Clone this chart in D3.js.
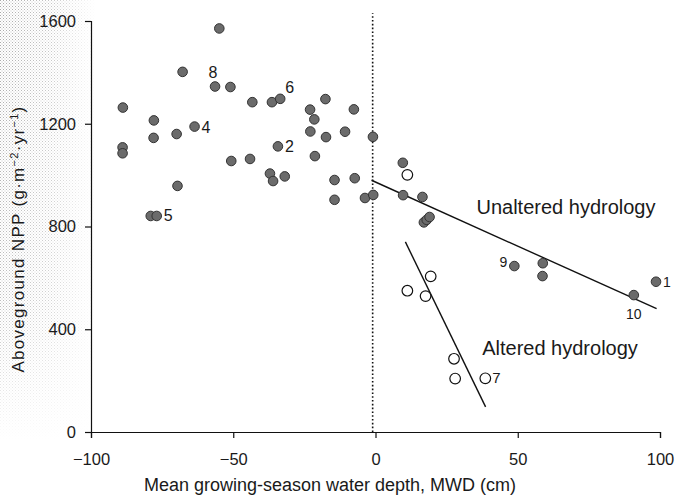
<!DOCTYPE html>
<html>
<head>
<meta charset="utf-8">
<script src="https://cdn.jsdelivr.net/npm/d3@7"></script>
<style>
  body { margin: 0; background: #fff; }
  svg text { font-family: "Liberation Sans", Arial, sans-serif; fill: #1a1a1a; }
</style>
</head>
<body>
<svg id="chart" width="681" height="498"></svg>
<script>
// unaltered hydrology sites (filled dots)
var unalteredX = [-88.8, -88.9, -88.9, -77.9, -78.0, -69.9, -63.6, -67.8, -69.6, -79.0, -76.9,
  -54.9, -56.4, -51.0, -43.3, -36.4, -33.5, -50.7, -44.1, -34.3, -37.1, -36.0, -31.9,
  -23.0, -21.5, -17.6, -22.9, -17.4, -21.3, -10.7, -7.6, -0.9, -14.4, -7.3, -14.4, -3.7, -0.8,
  9.6, 9.7, 16.5, 17.0, 18.0, 19.0, 48.8, 58.8, 58.7, 90.8, 98.6];
var unalteredY = [1263, 1108, 1085, 1213, 1145, 1160, 1189, 1402, 958, 841, 841,
  1571, 1345, 1343, 1284, 1284, 1297, 1055, 1063, 1112, 1006, 977, 995,
  1255, 1217, 1296, 1170, 1148, 1074, 1169, 1256, 1149, 981, 988, 904, 911, 923,
  1048, 922, 915, 816, 826, 837, 646, 657, 607, 533, 585];

// altered hydrology sites (open circles)
var alteredX = [11.2, 19.4, 11.2, 17.6, 27.6, 28.0, 38.6];
var alteredY = [1001, 606, 550, 529, 285, 208, 209];

// regression lines
var unalteredFitX = [-1.4, 98.8];
var unalteredFitY = [980, 480];
var alteredFitX = [10.5, 38.7];
var alteredFitY = [740, 98];

// numbered sites
var siteNames = ["1", "2", "4", "5", "6", "7", "8", "9", "10"];
var siteX = [98.6, -34.3, -63.6, -76.9, -33.5, 38.6, -56.4, 48.8, 90.8];
var siteY = [585, 1112, 1189, 841, 1297, 209, 1345, 646, 533];

var xTicks = [-100, -50, 0, 50, 100];
var yTicks = [0, 400, 800, 1200, 1600];
var dividerX = -1;

var svg = d3.select('#chart');

var x = d3.scaleLinear().domain([-100, 100]).range([91, 660]);
var y = d3.scaleLinear().domain([0, 1600]).range([432, 21]);

// scanned-paper stipple on the left edge
var defs = svg.append('defs');
var pat = defs.append('pattern').attr('id', 'stip').attr('width', 3).attr('height', 3)
  .attr('patternUnits', 'userSpaceOnUse');
pat.append('rect').attr('x', 0).attr('y', 0).attr('width', 1).attr('height', 1).attr('fill', '#8c8c8c');
pat.append('rect').attr('x', 1.5).attr('y', 1.5).attr('width', 1).attr('height', 1).attr('fill', '#a8a8a8');
var fadeX = defs.append('linearGradient').attr('id', 'fadeX')
  .attr('x1', '0').attr('y1', '0').attr('x2', '1').attr('y2', '0');
fadeX.append('stop').attr('offset', '0').attr('stop-color', '#fff').attr('stop-opacity', 0);
fadeX.append('stop').attr('offset', '0.55').attr('stop-color', '#fff').attr('stop-opacity', 0.35);
fadeX.append('stop').attr('offset', '1').attr('stop-color', '#fff').attr('stop-opacity', 1);
var fadeY = defs.append('linearGradient').attr('id', 'fadeY')
  .attr('x1', '0').attr('y1', '0').attr('x2', '0').attr('y2', '1');
fadeY.append('stop').attr('offset', '0').attr('stop-color', '#fff').attr('stop-opacity', 0);
fadeY.append('stop').attr('offset', '0.7').attr('stop-color', '#fff').attr('stop-opacity', 0.25);
fadeY.append('stop').attr('offset', '1').attr('stop-color', '#fff').attr('stop-opacity', 1);
svg.append('rect').attr('x', 0).attr('y', 0).attr('width', 96).attr('height', 440)
  .attr('fill', 'url(#stip)').attr('opacity', 0.75);
svg.append('rect').attr('x', 0).attr('y', 0).attr('width', 96).attr('height', 440)
  .attr('fill', 'url(#fadeX)');
svg.append('rect').attr('x', 0).attr('y', 0).attr('width', 96).attr('height', 440)
  .attr('fill', 'url(#fadeY)');

// axes
var xAxis = svg.append('g')
  .attr('transform', 'translate(0,' + y(0) + ')')
  .call(d3.axisBottom(x).tickValues(xTicks).tickSize(6).tickPadding(15));
var yAxis = svg.append('g')
  .attr('transform', 'translate(' + x(-100) + ',0)')
  .call(d3.axisLeft(y).tickValues(yTicks).tickFormat(d3.format('d')).tickSize(6).tickPadding(9));

[xAxis, yAxis].forEach(function (g) {
  g.attr('font-family', null).attr('font-size', null);
  g.selectAll('path, line').attr('stroke', '#111').attr('stroke-width', 1.2);
  g.selectAll('text').style('font-size', '16.5px');
});

// axis titles
svg.append('text')
  .attr('x', 330).attr('y', 491)
  .attr('text-anchor', 'middle')
  .style('font-size', '18px')
  .text('Mean growing-season water depth, MWD (cm)');

var yTitle = svg.append('text')
  .attr('transform', 'translate(24,239) rotate(-90)')
  .attr('text-anchor', 'middle')
  .style('font-size', '17px')
  .style('letter-spacing', '1.3px');
yTitle.append('tspan').text('Aboveground NPP (g·m');
yTitle.append('tspan').attr('dy', -6).style('font-size', '11px').text('−2');
yTitle.append('tspan').attr('dy', 6).text('·yr');
yTitle.append('tspan').attr('dy', -6).style('font-size', '11px').text('−1');
yTitle.append('tspan').attr('dy', 6).text(')');

// dotted divider at MWD ~ 0
svg.append('line')
  .attr('x1', x(dividerX)).attr('x2', x(dividerX))
  .attr('y1', y(0)).attr('y2', y(1630))
  .attr('stroke', '#111').attr('stroke-width', 1.6)
  .attr('stroke-dasharray', '1.6,2.2');

// regression lines
var line = d3.line().x(function (d) { return x(d[0]); }).y(function (d) { return y(d[1]); });
svg.append('path')
  .attr('d', line(d3.zip(unalteredFitX, unalteredFitY)))
  .attr('stroke', '#111').attr('stroke-width', 1.4).attr('fill', 'none');
svg.append('path')
  .attr('d', line(d3.zip(alteredFitX, alteredFitY)))
  .attr('stroke', '#111').attr('stroke-width', 1.4).attr('fill', 'none');

// points
svg.append('g').selectAll('circle')
  .data(d3.zip(unalteredX, unalteredY))
  .enter().append('circle')
  .attr('cx', function (d) { return x(d[0]); })
  .attr('cy', function (d) { return y(d[1]); })
  .attr('r', 4.8)
  .attr('fill', '#6b6b6b')
  .attr('stroke', '#333')
  .attr('stroke-width', 1);

svg.append('g').selectAll('circle')
  .data(d3.zip(alteredX, alteredY))
  .enter().append('circle')
  .attr('cx', function (d) { return x(d[0]); })
  .attr('cy', function (d) { return y(d[1]); })
  .attr('r', 5.3)
  .attr('fill', '#fff')
  .attr('stroke', '#111')
  .attr('stroke-width', 1.2);

// site number labels (offsets in px)
var labelOffset = {
  '1': [7, 5, 'start', 14], '2': [7, 6, 'start', 16], '4': [7, 6, 'start', 16],
  '5': [7, 5, 'start', 16], '6': [5, -6, 'start', 16], '7': [7, 5, 'start', 15],
  '8': [-2, -9, 'middle', 16], '9': [-7, 1, 'end', 14], '10': [0, 24, 'middle', 14]
};
svg.append('g').selectAll('text')
  .data(d3.zip(siteNames, siteX, siteY))
  .enter().append('text')
  .attr('x', function (d) { return x(d[1]) + labelOffset[d[0]][0]; })
  .attr('y', function (d) { return y(d[2]) + labelOffset[d[0]][1]; })
  .attr('text-anchor', function (d) { return labelOffset[d[0]][2]; })
  .style('font-size', function (d) { return labelOffset[d[0]][3] + 'px'; })
  .text(function (d) { return d[0]; });

// series annotations
svg.append('text')
  .attr('x', x(35.5)).attr('y', y(850))
  .style('font-size', '20px')
  .text('Unaltered hydrology');
svg.append('text')
  .attr('x', x(37.5)).attr('y', y(298))
  .style('font-size', '20px')
  .text('Altered hydrology');
</script>
</body>
</html>
